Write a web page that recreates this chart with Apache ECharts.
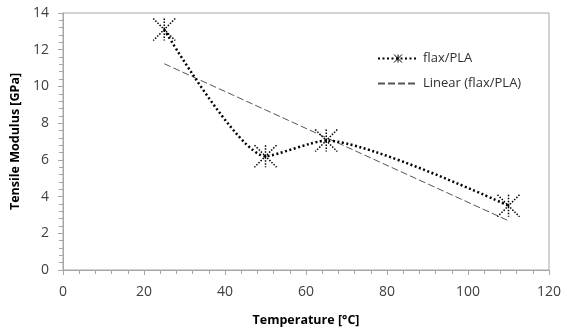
<!DOCTYPE html>
<html>
<head>
<meta charset="utf-8">
<script src="https://cdn.jsdelivr.net/npm/echarts@6/dist/echarts.min.js"></script>
<style>
  html, body { margin: 0; padding: 0; background: #fff; }
  #chart { width: 567px; height: 335px; }
</style>
</head>
<body>
<div id="chart"></div>
<script>
const temperature = [25, 50, 65, 110];
const modulus = [13.1, 6.2, 7.05, 3.5];

// Excel-style linear trendline from the same points
function linearFit(xs, ys) {
  const n = xs.length;
  const mx = xs.reduce((a, b) => a + b, 0) / n;
  const my = ys.reduce((a, b) => a + b, 0) / n;
  let sxy = 0, sxx = 0;
  for (let i = 0; i < n; i++) {
    sxy += (xs[i] - mx) * (ys[i] - my);
    sxx += (xs[i] - mx) * (xs[i] - mx);
  }
  const k = sxy / sxx;
  return x => my + k * (x - mx);
}
const fit = linearFit(temperature, modulus);
const trendX = [temperature[0], temperature[temperature.length - 1]];

const axisColor = "#a6a6a6";
const labelFont = { color: "#404040", fontSize: 14, fontFamily: "Open Sans" };
const titleFont = { color: "#000", fontSize: 12.5, fontWeight: "bold", fontFamily: "Open Sans" };
const starPath = "path://M0,0L10,10M10,0L0,10M5,0L5,10";

const chart = echarts.init(document.getElementById("chart"));
chart.setOption({
  animation: false,
  grid: {
    left: 63, right: 18, top: 13, bottom: 65,
    show: true, borderColor: axisColor, borderWidth: 1
  },
  legend: {
    orient: "vertical",
    left: 372, top: 47,
    itemWidth: 40, itemHeight: 10, itemGap: 12,
    textStyle: { color: "#303030", fontSize: 13, fontFamily: "Open Sans" },
    data: [
      { name: "flax/PLA", itemStyle: { borderWidth: 1 } },
      { name: "Linear (flax/PLA)", itemStyle: { opacity: 0 } }
    ]
  },
  xAxis: {
    type: "value",
    min: 0, max: 120, interval: 20,
    name: "Temperature [°C]",
    nameLocation: "middle", nameGap: 44,
    nameTextStyle: titleFont,
    axisLine: { lineStyle: { color: axisColor } },
    axisTick: { show: true, length: 5, lineStyle: { color: axisColor } },
    minorTick: { show: true, splitNumber: 5, length: 4, lineStyle: { color: axisColor } },
    splitLine: { show: false },
    axisLabel: { ...labelFont, margin: 15 }
  },
  yAxis: {
    type: "value",
    min: 0, max: 14, interval: 2,
    name: "Tensile Modulus [GPa]",
    nameLocation: "middle", nameGap: 36,
    nameTextStyle: titleFont,
    axisLine: { show: true, lineStyle: { color: axisColor } },
    axisTick: { show: true, length: 5, lineStyle: { color: axisColor } },
    minorTick: { show: true, splitNumber: 5, length: 4, lineStyle: { color: axisColor } },
    splitLine: { show: false },
    axisLabel: { ...labelFont, margin: 14 }
  },
  series: [
    {
      name: "flax/PLA",
      type: "line",
      smooth: 0.22,
      data: temperature.map((t, i) => [t, modulus[i]]),
      symbol: starPath,
      symbolSize: 22,
      itemStyle: { color: "#000", borderColor: "#000", borderWidth: 1.5, borderType: "dotted" },
      lineStyle: { color: "#000", width: 2.5, type: [2, 2.5] },
      z: 3
    },
    {
      name: "Linear (flax/PLA)",
      type: "line",
      data: trendX.map(t => [t, fit(t)]),
      showSymbol: false,
      symbol: "none",
      itemStyle: { color: "#555" },
      lineStyle: { color: "#555", width: 1, type: [7, 3] },
      z: 2
    }
  ]
});
</script>
</body>
</html>
